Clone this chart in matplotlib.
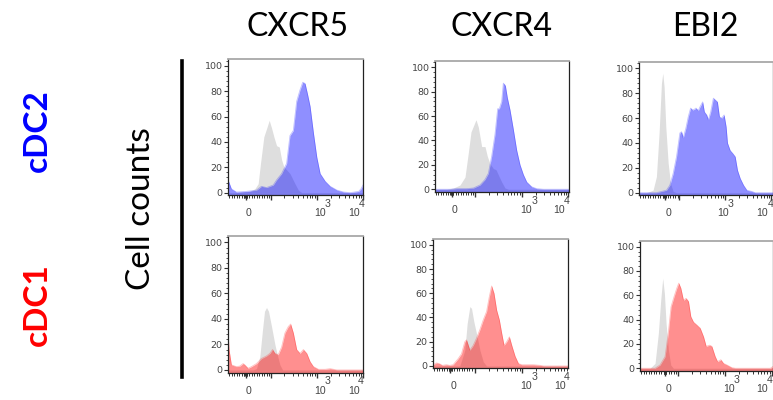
import matplotlib
matplotlib.use("Agg")
import matplotlib.pyplot as plt
import numpy as np
from matplotlib.lines import Line2D
from matplotlib.ticker import FixedLocator, MultipleLocator, NullFormatter

W, H = 773, 400

# ---------------- data (x = display channel on a biexponential axis, y = % of max) -------------
markers = ["CXCR5", "CXCR4", "EBI2"]
subsets = ["cDC2", "cDC1"]
subset_colors = ["#0000ff", "#ff0000"]
y_ticks = [0, 20, 40, 60, 80, 100]

# cDC2 row
cxcr5_cdc2_x = [115, 118, 125, 140, 170, 200, 215, 230, 250, 260, 275, 290, 300, 310, 320, 330, 338, 345,
                352, 360, 370, 380, 390, 405, 420, 440, 460, 480, 505, 512, 518]
cxcr5_cdc2_y = [10, 8, 3, 0.5, 1, 2, 5, 4, 6, 10, 15, 23, 45, 49, 72, 81, 87, 86, 78, 68, 47, 28, 15, 9, 5,
                2, 0.5, 0, 1, 3, 6]
cxcr5_cdc2_iso_x = [115, 140, 180, 195, 205, 212, 222, 232, 238, 245, 252, 260, 268, 275, 282, 290, 300,
                    315, 325, 335, 518]
cxcr5_cdc2_iso_y = [0, 0, 1, 3, 7, 23, 44, 52, 57, 51, 44, 37, 36, 26, 20, 18, 15, 7, 2, 0, 0]

cxcr4_cdc2_x = [105, 150, 170, 200, 220, 240, 255, 265, 275, 285, 293, 298, 305, 310, 316, 322, 330, 340,
                350, 360, 370, 380, 395, 410, 430, 507]
cxcr4_cdc2_y = [0, 0, 0.5, 0.5, 1, 3.5, 8, 13, 27, 45, 66, 66, 72, 87, 85, 75, 65, 49, 32, 20, 12, 6, 2,
                0.5, 0, 0]
cxcr4_cdc2_iso_x = [105, 140, 160, 180, 195, 205, 213, 222, 228, 235, 245, 255, 262, 270, 280, 288, 298,
                    305, 315, 325, 507]
cxcr4_cdc2_iso_y = [0, 0, 1, 3.5, 10, 30, 47, 53, 57, 51, 35, 35, 27, 21, 17, 16, 10, 6, 1, 0, 0]

ebi2_cdc2_x = [118, 170, 185, 200, 210, 220, 230, 240, 245, 250, 258, 265, 272, 278, 283, 288, 295, 300,
               308, 313, 320, 325, 332, 340, 346, 352, 358, 365, 372, 378, 382, 390, 398, 405, 412, 420,
               430, 440, 455, 465, 518]
ebi2_cdc2_y = [0, 0, 1, 2, 6, 15.5, 29, 48, 49, 44, 52, 61, 68, 66.5, 67, 68, 66, 69, 73, 65, 62.5, 58.5,
               65, 76, 74.5, 73, 61, 60, 62.5, 53, 40, 34, 31.5, 29, 18, 11.5, 6, 2, 1, 0, 0]
ebi2_cdc2_iso_x = [118, 140, 160, 170, 178, 185, 189, 193, 198, 205, 212, 220, 230, 518]
ebi2_cdc2_iso_y = [0, 0, 2, 13, 48, 88, 96, 85, 53, 24, 7.5, 1, 0, 0]

# cDC1 row
cxcr5_cdc1_x = [115, 118, 125, 140, 150, 160, 165, 175, 185, 200, 215, 230, 240, 248, 255, 265, 275, 285,
                295, 302, 310, 320, 330, 340, 350, 360, 370, 385, 405, 420, 440, 518]
cxcr5_cdc1_y = [30, 16, 4, 2.6, 3, 5, 4, 1.3, 2.6, 5, 9, 11, 13, 16, 13, 12, 18, 29, 34, 36, 29, 16, 13,
                16, 13, 6.5, 2.6, 0.5, 0.5, 1, 0, 0]
cxcr5_cdc1_iso_x = [115, 190, 200, 210, 218, 224, 230, 236, 245, 255, 262, 270, 278, 518]
cxcr5_cdc1_iso_y = [0, 0, 1, 10.5, 31.5, 46, 49, 46, 34, 20, 12, 4, 0, 0]

cxcr4_cdc1_x = [100, 110, 118, 128, 140, 150, 160, 175, 185, 195, 200, 210, 220, 230, 240, 250, 260, 268,
                275, 282, 290, 298, 305, 312, 320, 328, 335, 345, 355, 365, 400, 420, 430, 503]
cxcr4_cdc1_y = [1, 2.5, 2, 0.5, 1, 0.5, 1, 6, 10, 20, 21.5, 13, 17, 23, 30, 38, 45, 57, 66, 60, 46, 38,
                27, 17, 20, 24, 17, 8, 2, 1, 1, 0.5, 0, 0]
cxcr4_cdc1_iso_x = [100, 180, 195, 202, 210, 215, 222, 232, 240, 250, 260, 503]
cxcr4_cdc1_iso_y = [0, 0, 13, 35, 49, 47.5, 36.5, 24, 13, 3.5, 0, 0]

ebi2_cdc1_x = [120, 165, 180, 195, 205, 213, 222, 230, 236, 242, 250, 258, 265, 272, 280, 290, 300, 310,
               318, 328, 335, 345, 352, 362, 370, 380, 395, 405, 510, 518]
ebi2_cdc1_y = [0, 0, 2.7, 9.6, 30, 50.7, 59, 65.8, 70, 66, 56, 57.5, 55, 42.5, 38, 35.6, 33, 26, 18, 19,
               18, 9.6, 5.5, 7, 4, 2.7, 0.5, 0, 0, 1.5]
ebi2_cdc1_iso_x = [120, 150, 165, 175, 182, 188, 193, 198, 205, 212, 220, 518]
ebi2_cdc1_iso_y = [0, 0, 4, 29, 56, 74, 61.6, 37, 15, 2.7, 0, 0]

curves = {
    (0, 0): (cxcr5_cdc2_iso_x, cxcr5_cdc2_iso_y, cxcr5_cdc2_x, cxcr5_cdc2_y),
    (0, 1): (cxcr4_cdc2_iso_x, cxcr4_cdc2_iso_y, cxcr4_cdc2_x, cxcr4_cdc2_y),
    (0, 2): (ebi2_cdc2_iso_x, ebi2_cdc2_iso_y, ebi2_cdc2_x, ebi2_cdc2_y),
    (1, 0): (cxcr5_cdc1_iso_x, cxcr5_cdc1_iso_y, cxcr5_cdc1_x, cxcr5_cdc1_y),
    (1, 1): (cxcr4_cdc1_iso_x, cxcr4_cdc1_iso_y, cxcr4_cdc1_x, cxcr4_cdc1_y),
    (1, 2): (ebi2_cdc1_iso_x, ebi2_cdc1_iso_y, ebi2_cdc1_x, ebi2_cdc1_y),
}

# ---------------- layout (pixels) ----------------
rects = {
    (0, 0): (228, 59.4, 363, 195.2),
    (0, 1): (435, 61.2, 569, 191.7),
    (0, 2): (639, 62.1, 773, 195.2),
    (1, 0): (228, 236.1, 363, 372.5),
    (1, 1): (433, 238.7, 568, 368.4),
    (1, 2): (640, 240.6, 773, 370.7),
}
# per panel axis: xlim, 10^3 channel, channels per decade, zero channel
axis_spec = {
    (0, 0): ((115, 518), 380, 138, 168),
    (0, 1): ((105, 507), 365, 140, 155),
    (0, 2): ((118, 518), 375, 138, 195),
    (1, 0): ((115, 518), 380, 138, 168),
    (1, 1): ((100, 503), 365, 140, 152),
    (1, 2): ((120, 518), 374, 140, 195),
}
# label x positions: "0", "10" of 10^3, "3", "10" of 10^4, "4"
label_pos = {
    (0, 0): (175, 390, 413, 490, 513),
    (0, 1): (165, 378, 405, 478, 500),
    (0, 2): (205, 368, 390, 485, 510),
    (1, 0): (175, 390, 412, 490, 512),
    (1, 1): (162, 378, 403, 478, 500),
    (1, 2): (205, 385, 410, 485, 508),
}

fig = plt.figure(figsize=(W / 100, H / 100), dpi=100)

def px_rect(l, t, r, b):
    return [l / W, 1 - b / H, (r - l) / W, (b - t) / H]

tick_col = "#333333"
lab_col = "#444444"
iso_col = "#dedede"

for (r, c), rect in rects.items():
    ax = fig.add_axes(px_rect(*rect))
    gx, gy, sx, sy = curves[(r, c)]
    ax.fill_between(gx, gy, -5, color=iso_col, lw=0)
    ax.fill_between(sx, sy, -5, color=subset_colors[r], alpha=0.44, lw=0)
    ax.plot(sx, sy, color=subset_colors[r], alpha=0.25, lw=0.6)
    (x0, x1), t3, dec, z = axis_spec[(r, c)]
    ax.set_xlim(x0, x1)
    ax.set_ylim(-2, 105)

    # y axis
    ax.yaxis.set_major_locator(FixedLocator(y_ticks))
    ax.yaxis.set_minor_locator(MultipleLocator(4))
    ax.set_yticklabels([str(v) for v in y_ticks])
    ax.tick_params(axis="y", which="major", length=3, width=0.8, pad=1, labelsize=6.8,
                   colors=tick_col, labelcolor=lab_col)
    ax.tick_params(axis="y", which="minor", length=1.6, width=0.6, colors=tick_col)

    # x axis (biexponential look)
    majors = [t3 - dec, t3, t3 + dec, z]
    minors = []
    for k in (-1, 0):
        for m in range(2, 10):
            minors.append(t3 + (k + np.log10(m)) * dec)
    lin = np.arange(x0 + 3, t3 - dec - 3, 7.5)
    minors += list(lin)
    minors += [z - 4, z - 2, z + 2, z + 4]
    ax.xaxis.set_major_locator(FixedLocator([m for m in majors if x0 <= m <= x1]))
    ax.xaxis.set_minor_locator(FixedLocator([m for m in minors if x0 <= m <= x1]))
    ax.xaxis.set_major_formatter(NullFormatter())
    ax.tick_params(axis="x", which="major", length=3.4, width=1.0, colors=tick_col)
    ax.tick_params(axis="x", which="minor", length=2.0, width=0.7, colors=tick_col)

    zl, a10, a3, b10, b4 = label_pos[(r, c)]
    tr = ax.get_xaxis_transform()
    kw = dict(transform=tr, fontsize=7.6, color=lab_col, ha="center", va="center",
              family="Liberation Sans")
    ylab = -18 / ((rect[3] - rect[1]))
    ysup = -9 / ((rect[3] - rect[1]))
    ax.text(zl, ylab, "0", **kw)
    ax.text(a10, ylab, "10", **kw)
    ax.text(a3, ysup, "3", **kw)
    ax.text(b10, ylab, "10", **kw)
    ax.text(b4, ysup, "4", **kw)

    for s in ("left", "bottom", "right"):
        ax.spines[s].set_color("#222222")
        ax.spines[s].set_linewidth(0.9)
    ax.spines["top"].set_color("#a8a8a8")
    ax.spines["top"].set_linewidth(1.3)
    ax.set_facecolor("white")

# column titles
title_x = [298, 502, 705]
for name, tx in zip(markers, title_x):
    fig.text(tx / W, 1 - 36 / H, name, fontsize=23, family="Lato", ha="center", va="baseline")

# row labels
row_y = [131, 305]
for name, col, ry in zip(subsets, subset_colors, row_y):
    fig.text(47 / W, 1 - ry / H, name, fontsize=24, family="Lato", weight="bold", color=col,
             rotation=90, rotation_mode="anchor", ha="center", va="baseline")

fig.text(150 / W, 1 - 209 / H, "Cell counts", fontsize=24, family="Lato", rotation=90,
         rotation_mode="anchor", ha="center", va="baseline")

fig.add_artist(Line2D([182 / W, 182 / W], [1 - 61 / H, 1 - 377 / H], lw=2.6, color="black"))

fig.savefig("out.png", dpi=100)
